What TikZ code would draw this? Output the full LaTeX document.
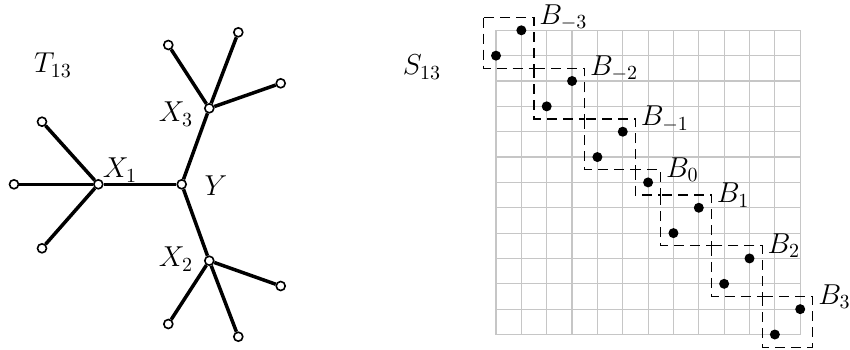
\documentclass[tikz,border=0pt]{standalone}
\begin{document}
\begin{tikzpicture}[x=0.5pt,y=-0.5pt,
  every node/.append style={font=\fontsize{14.4}{17}\selectfont},
  edge/.style={line width=1.75pt},
  vtx/.style={circle,draw,fill=white,line width=0.8pt,inner sep=0pt,minimum size=4.5pt},
  gridline/.style={gray!45,line width=0.6pt},
  dot/.style={circle,fill=black,inner sep=0pt,minimum size=5pt},
  dbox/.style={line width=0.6pt,dash pattern=on 5pt off 3pt},
  blab/.style={anchor=west,inner sep=2.5pt}]
\useasboundingbox (0,0) rectangle (850,349);
% ---------- tree T13 ----------
\node[vtx] (Y)  at (181.7,184.3) {};
\node[vtx] (X1) at (98.3,184.3) {};
\node[vtx] (X3) at (209.3,108.3) {};
\node[vtx] (X2) at (209.3,260.7) {};
\node[vtx] (L11) at (14,184.3) {};
\node[vtx] (L12) at (42,121.7) {};
\node[vtx] (L13) at (42,248.3) {};
\node[vtx] (L31) at (168.3,45) {};
\node[vtx] (L32) at (238.3,32.3) {};
\node[vtx] (L33) at (280.7,83.3) {};
\node[vtx] (L21) at (168.3,324) {};
\node[vtx] (L22) at (238.3,336.7) {};
\node[vtx] (L23) at (280.7,286) {};
\draw[edge] (Y) -- (X1);
\draw[edge] (Y) -- (X3);
\draw[edge] (Y) -- (X2);
\draw[edge] (X1) -- (L11);
\draw[edge] (X1) -- (L12);
\draw[edge] (X1) -- (L13);
\draw[edge] (X3) -- (L31);
\draw[edge] (X3) -- (L32);
\draw[edge] (X3) -- (L33);
\draw[edge] (X2) -- (L21);
\draw[edge] (X2) -- (L22);
\draw[edge] (X2) -- (L23);
\node (T) at (53,65) {$T_{13}$};
\node (lX1) at (120,170) {$X_1$};
\node (lY) at (216,186) {$Y$};
\node (lX3) at (176,114) {$X_3$};
\node (lX2) at (176,259) {$X_2$};
% ---------- S13 ----------
\node (S) at (422,67) {$S_{13}$};
\begin{scope}[shift={(496,30.3)},x=12.675pt,y=-12.675pt]
\foreach \i in {0,...,12} {
  \draw[gridline] (\i,0) -- (\i,12);
  \draw[gridline] (0,\i) -- (12,\i);
}
\foreach \a/\b/\n in {0/1/1,1/0/2,2/3/3,3/2/4,4/5/5,5/4/6,6/6/7,7/8/8,8/7/9,9/10/10,10/9/11,11/12/12,12/11/13}
  \node[dot] (p\n) at (\a,\b) {};
\foreach \lo/\hi/\lab in {-0.5/1.5/{-3},1.5/3.5/{-2},3.5/5.5/{-1},5.5/6.5/0,6.5/8.5/1,8.5/10.5/2,10.5/12.5/3} {
  \draw[dbox] (\lo,\lo) rectangle (\hi,\hi);
  \node[blab] at (\hi,\lo) {$B_{\lab}$};
}
\end{scope}
\end{tikzpicture}
\end{document}
